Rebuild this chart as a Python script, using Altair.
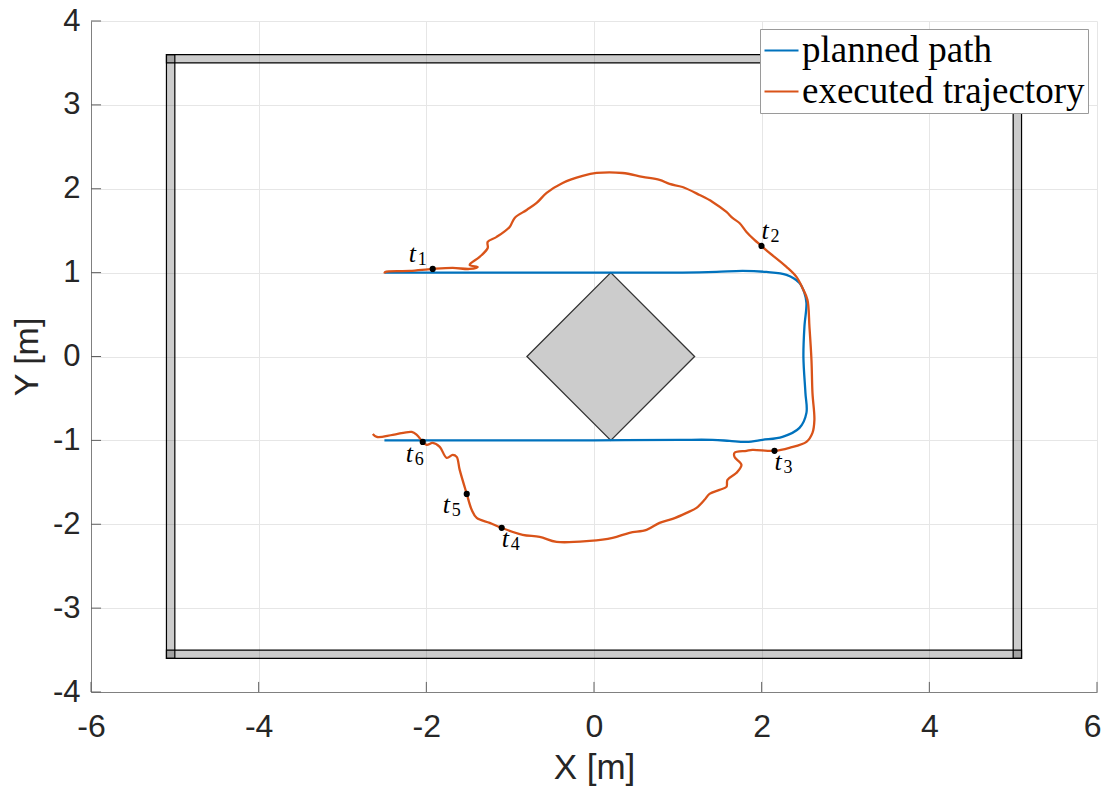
import altair as alt
import pandas as pd

# ---------------- data ----------------
planned_x = [-2.5, -1.0, 0.067, 1.056, 1.461, 1.771, 2.057, 2.296, 2.451, 2.510, 2.534, 2.510, 2.498,
             2.522, 2.534, 2.451, 2.248, 2.010, 1.819, 1.616, 1.414, 1.02, 0.0, -1.0, -2.5]
planned_y = [1.0, 1.0, 1.0, 1.0, 1.008, 1.020, 1.008, 0.973, 0.877, 0.758, 0.639, 0.353, -0.005,
             -0.434, -0.672, -0.851, -0.958, -0.994, -1.018, -1.006, -0.994, -0.994, -1.0, -1.0, -1.0]

exec_x = [-2.50, -2.49, -2.198, -1.924, -1.685, -1.483, -1.387, -1.483, -1.364, -1.268, -1.268, -1.161,
          -1.006, -0.946, -0.803, -0.684, -0.565, -0.374, -0.136, 0.031, 0.341, 0.579, 0.782, 0.901,
          1.056, 1.259, 1.414, 1.580, 1.652, 1.735, 1.819, 1.914, 1.998, 2.093, 2.296, 2.415, 2.486,
          2.546, 2.570, 2.594, 2.606, 2.629, 2.606, 2.534, 2.331, 2.153, 1.890, 1.819, 1.676, 1.676,
          1.759, 1.700, 1.592, 1.580, 1.497, 1.378, 1.318, 1.223, 1.104, 0.937, 0.782, 0.627, 0.424,
          0.222, -0.052, -0.446, -0.648, -0.851, -1.101, -1.244, -1.399, -1.459, -1.518, -1.602,
          -1.638, -1.685, -1.757, -1.840, -1.924, -1.995, -2.043, -2.114, -2.174, -2.400, -2.591, -2.639]
exec_y = [0.99, 1.008, 1.020, 1.044, 1.056, 1.044, 1.068, 1.092, 1.187, 1.294, 1.366, 1.426,
          1.545, 1.652, 1.747, 1.831, 1.950, 2.069, 2.153, 2.188, 2.188, 2.141, 2.105, 2.057,
          2.021, 1.926, 1.843, 1.723, 1.652, 1.592, 1.485, 1.390, 1.318, 1.235, 1.068, 0.949, 0.818,
          0.675, 0.353, -0.041, -0.434, -0.756, -0.911, -1.018, -1.089, -1.125, -1.113, -1.125, -1.149, -1.197,
          -1.292, -1.387, -1.471, -1.554, -1.590, -1.638, -1.709, -1.804, -1.864, -1.936, -1.983, -2.067, -2.102,
          -2.162, -2.198, -2.210, -2.150, -2.126, -2.043, -1.983, -1.924, -1.828, -1.638, -1.352,
          -1.197, -1.173, -1.209, -1.077, -1.030, -1.054, -1.018, -0.934, -0.899, -0.934, -0.958, -0.923]

marker_x = [-1.924, 1.998, 2.153, -1.101, -1.518, -2.043]
marker_y = [1.044, 1.318, -1.125, -2.043, -1.638, -1.018]
label_sub = ["1", "2", "3", "4", "5", "6"]
label_x = [-2.210, 1.998, 2.153, -1.101, -1.805, -2.246]
label_y = [1.128, 1.402, -1.352, -2.269, -1.864, -1.256]

wall_x1 = [-5.1, -5.1, -5.1, 5.0]
wall_x2 = [5.1, 5.1, -5.0, 5.1]
wall_y1 = [3.5, -3.6, -3.6, -3.6]
wall_y2 = [3.6, -3.5, 3.6, 3.6]

obstacle_x = [-0.8, 0.2, 1.2]
obstacle_top = [0.0, 1.0, 0.0]
obstacle_bottom = [0.0, -1.0, 0.0]

x_ticks = [-6, -4, -2, 0, 2, 4, 6]
y_ticks = [-4, -3, -2, -1, 0, 1, 2, 3, 4]

series_names = ["planned path", "executed trajectory"]
series_colors = ["#0072BD", "#D95319"]

# ---------------- tables ----------------
paths = pd.concat([
    pd.DataFrame({"x": planned_x, "y": planned_y, "series": series_names[0],
                  "i": range(len(planned_x))}),
    pd.DataFrame({"x": exec_x, "y": exec_y, "series": series_names[1],
                  "i": range(len(exec_x))}),
], ignore_index=True)
walls = pd.DataFrame({"x1": wall_x1, "x2": wall_x2, "y1": wall_y1, "y2": wall_y2})
obst = pd.DataFrame({"x": obstacle_x, "top": obstacle_top, "bottom": obstacle_bottom})
markers = pd.DataFrame({"x": marker_x, "y": marker_y})
labels = pd.DataFrame({"x": label_x, "y": label_y, "sub": label_sub, "t": "t"})
TL = 0.12
xt = pd.DataFrame({"x": x_ticks, "y1": -4.0, "y2": -4.0 + TL})
yt = pd.DataFrame({"y": y_ticks, "x1": -6.0, "x2": -6.0 + TL})

FONT = "Liberation Sans"
xs = alt.Scale(domain=[-6, 6], nice=False, zero=False)
ys = alt.Scale(domain=[-4, 4], nice=False, zero=False)

last_x = x_ticks[-1]
x_axis = alt.Axis(values=x_ticks, title="X [m]", labelExpr="datum.value + ''",
                  grid=True, gridColor="#e6e6e6", tickSize=0, labelPadding=19,
                  labelFlush=False, labelOverlap=False,
                  labelAlign={"condition": {"test": f"datum.value == {last_x}", "value": "right"},
                              "value": "center"},
                  labelOffset={"condition": {"test": f"datum.value == {last_x}", "value": 4},
                               "value": 0},
                  labelFontSize=32, titleFontSize=35, titlePadding=8,
                  domainColor="#808080", labelColor="#262626", titleColor="#262626",
                  labelFont=FONT, titleFont=FONT, titleFontWeight="normal")
y_axis = alt.Axis(values=y_ticks, title="Y [m]", labelExpr="datum.value + ''",
                  grid=True, gridColor="#e6e6e6", tickSize=0, labelPadding=11,
                  labelFlush=False, labelOverlap=False,
                  labelFontSize=31, titleFontSize=34, titlePadding=8,
                  domainColor="#808080", labelColor="#262626", titleColor="#262626",
                  labelFont=FONT, titleFont=FONT, titleFontWeight="normal")

base_axes = alt.Chart(walls).mark_rect(
    fill="black", fillOpacity=0.2, stroke="black", strokeWidth=1.2
).encode(
    x=alt.X("x1:Q", scale=xs, axis=x_axis), x2="x2:Q",
    y=alt.Y("y1:Q", scale=ys, axis=y_axis), y2="y2:Q",
)

diamond = alt.Chart(obst).mark_area(
    fill="#cccccc", stroke="#333333", strokeWidth=1.3
).encode(
    x=alt.X("x:Q", scale=xs), y=alt.Y("top:Q", scale=ys), y2="bottom:Q"
)

xticks = alt.Chart(xt).mark_rule(color="#606060", strokeWidth=1).encode(
    x=alt.X("x:Q", scale=xs), y=alt.Y("y1:Q", scale=ys), y2="y2:Q")
yticks = alt.Chart(yt).mark_rule(color="#606060", strokeWidth=1).encode(
    y=alt.Y("y:Q", scale=ys), x=alt.X("x1:Q", scale=xs), x2="x2:Q")

lines = alt.Chart(paths).mark_line(strokeWidth=2.3, interpolate="catmull-rom").encode(
    x=alt.X("x:Q", scale=xs), y=alt.Y("y:Q", scale=ys),
    order="i:Q",
    detail="series:N",
    color=alt.Color("series:N",
                    scale=alt.Scale(domain=series_names, range=series_colors),
                    sort=series_names,
                    legend=alt.Legend(title=None, orient="none", legendX=669, legendY=8,
                                      labelFont="Liberation Serif", labelFontSize=37,
                                      labelColor="black", symbolType="stroke",
                                      symbolSize=1156, symbolStrokeWidth=2,
                                      labelOffset=2, rowPadding=3, padding=3,
                                      fillColor="white", strokeColor="#9a9a9a",
                                      labelLimit=1000)),
)

pts = alt.Chart(markers).mark_circle(size=38, color="black", opacity=1).encode(
    x=alt.X("x:Q", scale=xs), y=alt.Y("y:Q", scale=ys))

t_text = alt.Chart(labels).mark_text(
    font="Liberation Serif", fontStyle="italic", fontSize=26, align="left",
    baseline="alphabetic", color="black"
).encode(x=alt.X("x:Q", scale=xs), y=alt.Y("y:Q", scale=ys), text="t:N")

sub_text = alt.Chart(labels).mark_text(
    font="Liberation Serif", fontSize=18, align="left", baseline="alphabetic",
    color="black", dx=9, dy=3
).encode(x=alt.X("x:Q", scale=xs), y=alt.Y("y:Q", scale=ys), text="sub:N")

chart = alt.layer(base_axes, diamond, xticks, yticks, lines, pts, t_text, sub_text).properties(
    width=1006, height=671,
    autosize=alt.AutoSizeParams(type="none"),
    padding={"left": 83, "top": 13, "right": 5, "bottom": 94},
    background="white",
).configure_view(stroke=None).configure_axis(domainWidth=1)

chart.save("out.html", embed_options={"renderer": "svg", "actions": False})
